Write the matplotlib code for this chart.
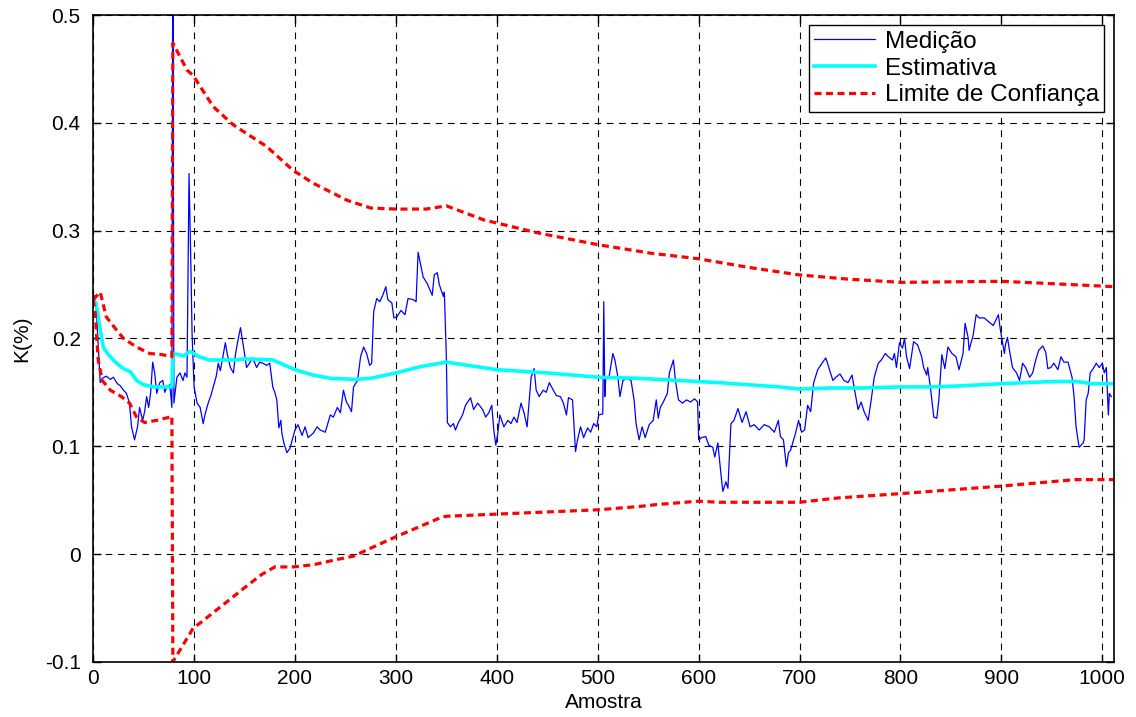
import matplotlib
matplotlib.use('Agg')
import matplotlib.pyplot as plt

plt.rcParams['font.family'] = ['Liberation Sans', 'DejaVu Sans']

# medição (amostra, K%)
amostra_med = [0, 1, 3, 7, 9, 13, 17, 20, 24, 27, 30, 33, 36, 38, 41, 44, 46, 49, 51, 53,
               55, 57, 59, 61, 63, 66, 69, 71, 73, 76, 78, 79, 80, 83, 86, 89, 91, 93, 95, 97,
               98, 100, 103, 106, 109, 111, 114, 117, 119, 122, 124, 126, 128, 131, 133, 136, 139, 141, 143, 146,
               149, 152, 155, 158, 162, 165, 168, 172, 175, 178, 180, 182, 184, 186, 187, 189, 192, 195, 198, 200,
               203, 207, 210, 213, 218, 222, 225, 230, 235, 238, 242, 245, 248, 251, 253, 256, 258, 262, 265, 268,
               271, 274, 276, 278, 281, 284, 287, 290, 292, 296, 298, 301, 305, 309, 312, 317, 320, 322, 324, 327,
               331, 336, 338, 341, 343, 347, 348, 350, 351, 354, 357, 359, 362, 366, 369, 374, 377, 381, 386, 389,
               392, 395, 397, 399, 401, 403, 407, 411, 414, 417, 420, 424, 427, 430, 434, 437, 439, 442, 446, 449,
               452, 456, 459, 463, 466, 469, 471, 475, 476, 478, 480, 483, 486, 490, 493, 496, 499, 501, 505, 506,
               507, 508, 511, 515, 517, 520, 522, 525, 529, 533, 536, 538, 541, 544, 547, 551, 555, 558, 560, 562,
               565, 569, 571, 575, 577, 580, 584, 588, 592, 596, 599, 600, 603, 607, 610, 614, 616, 619, 622, 624,
               627, 629, 632, 635, 639, 643, 647, 651, 655, 660, 665, 670, 675, 679, 681, 684, 687, 689, 691, 696,
               699, 702, 705, 708, 711, 714, 718, 723, 726, 729, 733, 736, 740, 744, 748, 752, 754, 758, 761, 764,
               768, 771, 774, 778, 781, 785, 788, 792, 794, 796, 799, 802, 804, 806, 809, 813, 817, 821, 823, 826,
               827, 830, 833, 836, 838, 841, 844, 847, 851, 855, 858, 862, 864, 867, 868, 872, 875, 878, 883, 888,
               892, 897, 899, 903, 904, 906, 908, 911, 915, 918, 921, 924, 928, 931, 934, 937, 941, 944, 946, 949,
               952, 956, 959, 962, 966, 970, 972, 974, 977, 981, 982, 984, 986, 988, 991, 994, 997, 1000, 1002, 1004,
               1006, 1007, 1009]
medicao = [0.235, 0.240, 0.228, 0.159, 0.163, 0.165, 0.162, 0.164, 0.158, 0.156, 0.152, 0.149, 0.140, 0.118, 0.106, 0.118, 0.136, 0.124, 0.132, 0.146,
           0.136, 0.150, 0.178, 0.168, 0.149, 0.159, 0.161, 0.150, 0.155, 0.157, 0.136, 0.620, 0.140, 0.164, 0.168, 0.161, 0.168, 0.164, 0.353, 0.260,
           0.205, 0.155, 0.140, 0.136, 0.121, 0.130, 0.140, 0.148, 0.155, 0.165, 0.177, 0.170, 0.180, 0.196, 0.185, 0.173, 0.168, 0.185, 0.196, 0.210,
           0.192, 0.173, 0.177, 0.182, 0.173, 0.178, 0.177, 0.175, 0.177, 0.155, 0.150, 0.143, 0.117, 0.124, 0.112, 0.103, 0.094, 0.098, 0.108, 0.115,
           0.120, 0.110, 0.118, 0.108, 0.112, 0.118, 0.115, 0.113, 0.129, 0.127, 0.136, 0.131, 0.152, 0.141, 0.138, 0.132, 0.155, 0.161, 0.183, 0.192,
           0.186, 0.175, 0.177, 0.225, 0.237, 0.234, 0.240, 0.248, 0.236, 0.233, 0.219, 0.220, 0.226, 0.222, 0.237, 0.236, 0.234, 0.280, 0.271, 0.257,
           0.251, 0.240, 0.259, 0.261, 0.250, 0.239, 0.243, 0.183, 0.122, 0.118, 0.121, 0.115, 0.122, 0.129, 0.138, 0.145, 0.134, 0.140, 0.134, 0.127,
           0.131, 0.138, 0.115, 0.101, 0.112, 0.129, 0.118, 0.124, 0.121, 0.127, 0.122, 0.140, 0.131, 0.118, 0.164, 0.172, 0.152, 0.146, 0.152, 0.150,
           0.159, 0.152, 0.147, 0.146, 0.140, 0.129, 0.145, 0.143, 0.127, 0.095, 0.106, 0.118, 0.108, 0.117, 0.113, 0.121, 0.118, 0.129, 0.130, 0.234,
           0.146, 0.164, 0.163, 0.186, 0.180, 0.164, 0.146, 0.161, 0.163, 0.161, 0.143, 0.121, 0.106, 0.118, 0.108, 0.120, 0.124, 0.143, 0.126, 0.136,
           0.141, 0.149, 0.168, 0.180, 0.161, 0.143, 0.140, 0.143, 0.141, 0.144, 0.141, 0.106, 0.108, 0.109, 0.101, 0.099, 0.090, 0.103, 0.075, 0.058,
           0.067, 0.061, 0.121, 0.124, 0.135, 0.122, 0.132, 0.118, 0.120, 0.115, 0.120, 0.118, 0.113, 0.124, 0.109, 0.106, 0.081, 0.094, 0.096, 0.112,
           0.124, 0.113, 0.115, 0.138, 0.132, 0.159, 0.171, 0.178, 0.182, 0.173, 0.161, 0.164, 0.167, 0.161, 0.159, 0.166, 0.155, 0.134, 0.141, 0.132,
           0.124, 0.143, 0.164, 0.177, 0.180, 0.186, 0.183, 0.180, 0.186, 0.173, 0.196, 0.191, 0.200, 0.183, 0.172, 0.197, 0.194, 0.183, 0.173, 0.166,
           0.173, 0.152, 0.127, 0.126, 0.143, 0.185, 0.172, 0.192, 0.186, 0.183, 0.171, 0.186, 0.214, 0.201, 0.189, 0.203, 0.222, 0.219, 0.219, 0.215,
           0.212, 0.222, 0.208, 0.186, 0.194, 0.201, 0.189, 0.173, 0.168, 0.161, 0.177, 0.173, 0.164, 0.168, 0.180, 0.189, 0.193, 0.187, 0.172, 0.173,
           0.177, 0.171, 0.183, 0.178, 0.178, 0.164, 0.146, 0.118, 0.099, 0.103, 0.106, 0.143, 0.149, 0.168, 0.172, 0.177, 0.173, 0.177, 0.168, 0.173,
           0.129, 0.149, 0.146]

# estimativa
amostra_est = [0, 3, 7, 10, 15, 22, 30, 37, 43, 50, 60, 78, 79, 90, 96, 105, 115, 140, 150, 178,
               200, 218, 235, 260, 275, 300, 325, 350, 400, 450, 500, 540, 600, 620, 650, 680, 700, 730, 760, 800,
               830, 860, 900, 950, 975, 990, 1012]
estimativa = [0.236, 0.232, 0.208, 0.192, 0.185, 0.178, 0.172, 0.169, 0.161, 0.157, 0.155, 0.155, 0.186, 0.184, 0.188, 0.183, 0.180, 0.180, 0.181, 0.180,
              0.171, 0.166, 0.163, 0.162, 0.163, 0.168, 0.174, 0.178, 0.171, 0.168, 0.164, 0.163, 0.160, 0.159, 0.157, 0.155, 0.153, 0.154, 0.154, 0.155,
              0.155, 0.156, 0.158, 0.160, 0.160, 0.158, 0.158]

# limite de confiança superior / inferior
amostra_sup = [0, 7, 13, 23, 30, 43, 56, 68, 78, 79, 93, 99, 119, 139, 172, 198, 218, 252, 275, 300,
               330, 350, 387, 440, 500, 553, 599, 649, 699, 748, 801, 900, 946, 1012]
lim_sup = [0.236, 0.243, 0.220, 0.208, 0.200, 0.192, 0.186, 0.185, 0.183, 0.474, 0.449, 0.444, 0.415, 0.398, 0.378, 0.356, 0.344, 0.328, 0.321, 0.320,
           0.320, 0.323, 0.310, 0.298, 0.287, 0.279, 0.274, 0.266, 0.259, 0.255, 0.252, 0.253, 0.251, 0.248]

amostra_inf = [0, 2, 5, 9, 17, 28, 36, 43, 51, 63, 76, 78, 79, 99, 106, 129, 149, 167, 180, 198,
               218, 242, 258, 281, 300, 320, 345, 350, 400, 450, 500, 540, 560, 600, 620, 700, 738, 800, 900, 973,
               1012]
lim_inf = [0.236, 0.224, 0.180, 0.161, 0.152, 0.146, 0.140, 0.127, 0.122, 0.124, 0.127, 0.128, -0.100, -0.069, -0.064, -0.047, -0.032, -0.019, -0.012, -0.012,
           -0.010, -0.005, -0.002, 0.008, 0.016, 0.024, 0.034, 0.035, 0.037, 0.039, 0.041, 0.044, 0.046, 0.049, 0.048, 0.048, 0.052, 0.056, 0.063, 0.069,
           0.069]

xticks = list(range(0, 1001, 100))
yticks = [-0.1, 0, 0.1, 0.2, 0.3, 0.4, 0.5]
ytick_labels = ['-0.1', '0', '0.1', '0.2', '0.3', '0.4', '0.5']

fig = plt.figure(figsize=(11.36, 7.17), dpi=100)
ax = fig.add_axes([0.082, 0.077, 0.899, 0.902])

ax.plot(amostra_med, medicao, color='#0000ff', lw=0.9, label='Medição')
ax.plot(amostra_est, estimativa, color='#00ffff', lw=2.6, label='Estimativa')
ax.plot(amostra_sup, lim_sup, color='#ff0000', lw=2.3, ls=(0, (2.2, 1.4)), label='Limite de Confiança')
ax.plot(amostra_inf, lim_inf, color='#ff0000', lw=2.3, ls=(0, (2.2, 1.4)))

ax.set_xlim(0, 1012)
ax.set_ylim(-0.1, 0.5)
ax.set_xticks(xticks)
ax.set_yticks(yticks)
ax.set_yticklabels(ytick_labels)
ax.tick_params(direction='in', top=True, right=True, labelsize=15, length=6, width=1)
ax.tick_params(axis='y', pad=9)
ax.tick_params(axis='x', pad=5)
ax.grid(True, color='black', ls=(0, (6, 5)), lw=0.8)
for s in ax.spines.values():
    s.set_linewidth(1.2)

ax.set_xlabel('Amostra', fontsize=15, labelpad=4)
ax.set_ylabel('K(%)', fontsize=15, labelpad=10)

leg = ax.legend(loc='upper right', fontsize=17.5, fancybox=False, framealpha=1,
                edgecolor='black', borderaxespad=0.42, handlelength=2.5,
                borderpad=0.22, labelspacing=0.2, handletextpad=0.4)
leg.get_frame().set_linewidth(1.0)

fig.savefig('out.png', dpi=100)
